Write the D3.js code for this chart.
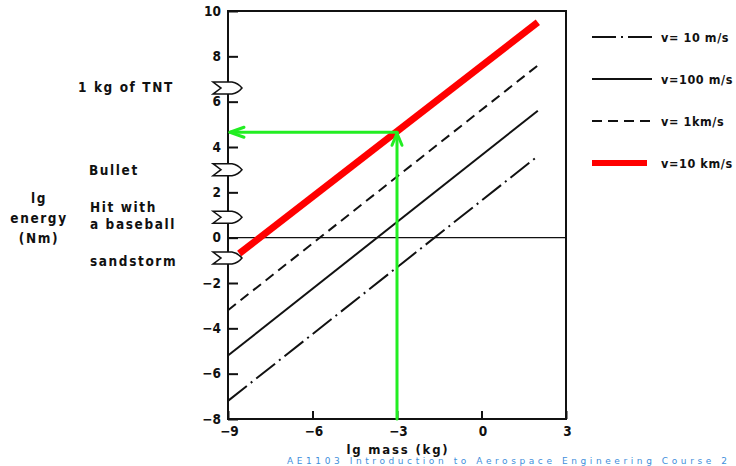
<!DOCTYPE html>
<html>
<head>
<meta charset="utf-8">
<script src="https://cdn.jsdelivr.net/npm/d3@7"></script>
<style>
  html, body { margin: 0; padding: 0; background: #fff; }
  svg { display: block; }
  .lbl { font-family: "DejaVu Sans Condensed", "DejaVu Sans", sans-serif; font-weight: bold; fill: #111; }
</style>
</head>
<body>
<svg id="chart" width="736" height="466"></svg>
<script>
// lg mass (kg) on x, lg energy (Nm) on y
const xTicks = [-9, -6, -3, 0, 3];
const yTicks = [-8, -6, -4, -2, 0, 2, 4, 6, 8, 10];

// kinetic energy lines for each speed: [lg m, lg E] endpoints
const speeds = ["v= 10 m/s", "v=100 m/s", "v= 1km/s", "v=10 km/s"];
const line10ms  = [[-9, -7.2], [2, 3.6]];
const line100ms = [[-9, -5.2], [2, 5.6]];
const line1kms  = [[-9, -3.2], [2, 7.6]];
const line10kms = [[-8.6, -0.7], [2, 9.5]];

// reference energies marked on the energy axis
const refNames  = [["1 kg  of  TNT"], ["Bullet"], ["Hit  with", "a  baseball"], ["sandstorm"]];
const refEnergy = [6.6, 3.0, 0.9, -0.9];

// worked example: 1 g at 10 km/s
const exampleMass = -3;
const exampleEnergy = 4.65;

const svg = d3.select("#chart");
const x = d3.scaleLinear().domain([-9, 3]).range([228, 566]);
const y = d3.scaleLinear().domain([-8, 10]).range([419, 11]);

// axes with inward ticks
const gx = svg.append("g").attr("transform", `translate(0,${y(-8)})`)
  .call(d3.axisBottom(x).tickValues(xTicks).tickSizeInner(-8).tickSizeOuter(0).tickPadding(7)
        .tickFormat(d3.format("d")));
const gy = svg.append("g").attr("transform", `translate(${x(-9)},0)`)
  .call(d3.axisLeft(y).tickValues(yTicks).tickSizeInner(-10).tickSizeOuter(0).tickPadding(7)
        .tickFormat(d3.format("d")));
[gx, gy].forEach(g => {
  g.select(".domain").remove();
  g.selectAll(".tick line").attr("stroke", "#111").attr("stroke-width", 2);
  g.selectAll(".tick text").attr("class", "lbl").attr("font-size", 13.5);
});
gx.selectAll(".tick text").attr("transform", "translate(1,0)");

// frame
svg.append("rect")
  .attr("x", x(-9)).attr("y", y(10))
  .attr("width", x(3) - x(-9)).attr("height", y(-8) - y(10))
  .attr("fill", "none").attr("stroke", "#111").attr("stroke-width", 2);

// zero energy line
svg.append("line")
  .attr("x1", x(-9)).attr("x2", x(3)).attr("y1", y(0)).attr("y2", y(0))
  .attr("stroke", "#111").attr("stroke-width", 1.4);

const styles = [
  { data: line10ms,  stroke: "#111", width: 2, dash: "24,5,2,5" },
  { data: line100ms, stroke: "#111", width: 2, dash: null },
  { data: line1kms,  stroke: "#111", width: 2, dash: "10,6" },
  { data: line10kms, stroke: "#ff0000", width: 7, dash: null }
];
const path = d3.line().x(d => x(d[0])).y(d => y(d[1]));
styles.forEach(s => {
  svg.append("path").attr("d", path(s.data))
    .attr("fill", "none").attr("stroke", s.stroke)
    .attr("stroke-width", s.width)
    .attr("stroke-dasharray", s.dash);
});

// green guide arrows
const green = "#22ee22";
const ga = svg.append("g").attr("stroke", green).attr("stroke-width", 3).attr("fill", "none")
  .attr("stroke-linecap", "round").attr("stroke-linejoin", "round");
ga.append("path").attr("d", d3.line()([[x(exampleMass), y(-8)], [x(exampleMass), y(exampleEnergy)]]));
ga.append("path").attr("d", d3.line()([[x(exampleMass), y(exampleEnergy)], [x(-9) + 2, y(exampleEnergy)]]));
// arrow heads
const tipUp = [x(exampleMass), y(exampleEnergy) + 1];
ga.append("path").attr("d", d3.line()([[tipUp[0] - 5, tipUp[1] + 12], tipUp, [tipUp[0] + 5, tipUp[1] + 12]]));
const tipLeft = [x(-9) + 2, y(exampleEnergy)];
ga.append("path").attr("d", d3.line()([[tipLeft[0] + 14, tipLeft[1] - 5], tipLeft, [tipLeft[0] + 14, tipLeft[1] + 5]]));

// reference markers on the energy axis
const marker = "M-15,-6 L4,-6 Q10,-5 14,0 Q10,5 4,6 L-15,6 L-7,0 Z";
refEnergy.forEach((e, i) => {
  svg.append("path").attr("d", marker)
    .attr("transform", `translate(${x(-9)},${y(e)})`)
    .attr("fill", "#fff").attr("stroke", "#111").attr("stroke-width", 1.5);
});

// reference labels
const refPos = [[78, 92], [89, 175], [90, 212], [90, 266]];
refNames.forEach((lines, i) => {
  const t = svg.append("text").attr("class", "lbl").attr("font-size", 13.5)
    .style("font-weight", 600)
    .attr("letter-spacing", 1.6)
    .attr("x", refPos[i][0]).attr("y", refPos[i][1]);
  lines.forEach((s, j) => t.append("tspan").attr("x", refPos[i][0]).attr("dy", j ? 17 : 0).text(s));
});

// axis titles
const yTitle = ["lg", "energy", "(Nm)"];
yTitle.forEach((s, i) => {
  svg.append("text").attr("class", "lbl").attr("font-size", 13.5).style("font-weight", 600)
    .attr("letter-spacing", 1.6).attr("text-anchor", "middle")
    .attr("x", 39).attr("y", 203 + i * 20).text(s);
});
svg.append("text").attr("class", "lbl").attr("font-size", 13).style("font-weight", 600)
  .attr("letter-spacing", 1.8).attr("text-anchor", "middle")
  .attr("x", 398).attr("y", 454).text("lg  mass  (kg)");

// legend
const legY = [37, 79, 121, 163];
styles.forEach((s, i) => {
  svg.append("line").attr("x1", 592).attr("x2", s.width > 3 ? 647 : 652)
    .attr("y1", legY[i]).attr("y2", legY[i])
    .attr("stroke", s.stroke).attr("stroke-width", s.width > 3 ? 6 : 2)
    .attr("stroke-dasharray", s.dash);
  svg.append("text").attr("class", "lbl").attr("font-size", 12.5).style("font-weight", 600)
    .attr("letter-spacing", 0.6)
    .attr("x", 661).attr("y", legY[i] + 4.5).text(speeds[i]);
});

// course footer line along the bottom edge
svg.append("text").attr("x", 287).attr("y", 464)
  .attr("font-family", "DejaVu Sans, sans-serif").attr("font-size", 9)
  .attr("textLength", 440).attr("lengthAdjust", "spacing")
  .attr("fill", "#3f8fdc")
  .text("AE1103 Introduction to Aerospace Engineering Course 2");
</script>
</body>
</html>
